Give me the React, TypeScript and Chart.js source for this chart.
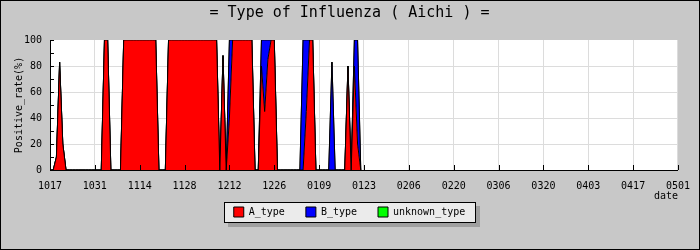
import React, { useEffect, useRef } from 'react';
import { Chart, registerables } from 'chart.js';

Chart.register(...registerables);

const chartTitle = '= Type of Influenza ( Aichi ) =';
const yTitle = 'Positive_rate(%)';
const xTitle = 'date';

// x tick labels, one every 14 days (day 0 = 10/17, day 196 = 05/01)
const tickLabels = ['1017', '1031', '1114', '1128', '1212', '1226', '0109', '0123', '0206', '0220', '0306', '0320', '0403', '0417', '0501'];
const daysPerTick = 14;
const lastDay = 196;

const seriesNames = ['A_type', 'B_type', 'unknown_type'];
const seriesColors = ['#ff0000', '#0000ff', '#00ff00'];

// daily positive rate (%), day 0 .. 97
const aType = [
  0, 0, 10, 83, 20, 0, 0, 0, 0, 0,
  0, 0, 0, 0, 0, 0, 0, 100, 100, 0,
  0, 0, 0, 100, 100, 100, 100, 100, 100, 100,
  100, 100, 100, 100, 0, 0, 0, 100, 100, 100,
  100, 100, 100, 100, 100, 100, 100, 100, 100, 100,
  100, 100, 100, 0, 88, 0, 40, 100, 100, 100,
  100, 100, 100, 100, 0, 0, 80, 45, 85, 100,
  100, 0, 0, 0, 0, 0, 0, 0, 0, 0,
  45, 100, 100, 0, 0, 0, 0, 0, 0, 0,
  0, 0, 0, 80, 0, 80, 20, 0,
];
const bType = [
  0, 0, 0, 0, 0, 0, 0, 0, 0, 0,
  0, 0, 0, 0, 0, 0, 0, 0, 0, 0,
  0, 0, 0, 0, 0, 0, 0, 0, 0, 0,
  0, 0, 0, 0, 0, 0, 0, 0, 0, 0,
  0, 0, 0, 0, 0, 0, 0, 0, 0, 0,
  0, 0, 0, 0, 0, 0, 60, 0, 0, 0,
  0, 0, 0, 0, 0, 0, 20, 55, 15, 0,
  0, 0, 0, 0, 0, 0, 0, 0, 0, 100,
  55, 0, 0, 0, 0, 0, 0, 0, 83, 0,
  0, 0, 0, 0, 0, 20, 80, 0,
];
const unknownType = [
  0, 0, 0, 0, 0, 0, 0, 0, 0, 0,
  0, 0, 0, 0, 0, 0, 0, 0, 0, 0,
  0, 0, 0, 0, 0, 0, 0, 0, 0, 0,
  0, 0, 0, 0, 0, 0, 0, 0, 0, 0,
  0, 0, 0, 0, 0, 0, 0, 0, 0, 0,
  0, 0, 0, 0, 0, 0, 0, 0, 0, 0,
  0, 0, 0, 0, 0, 0, 0, 0, 0, 0,
  0, 0, 0, 0, 0, 0, 0, 0, 0, 0,
  0, 0, 0, 0, 0, 0, 0, 0, 0, 0,
  0, 0, 0, 0, 0, 0, 0, 0,
];

const seriesValues = [aType, bType, unknownType];

const decorPlugin = {
  id: 'decor',
  beforeDraw(chart: any) {
    const { ctx, chartArea: a } = chart;
    ctx.save();
    ctx.fillStyle = '#c8c8c8';
    ctx.fillRect(0, 0, chart.width, chart.height);
    ctx.fillStyle = '#ffffff';
    ctx.fillRect(a.left, a.top, a.right - a.left, a.bottom - a.top);
    const hb = chart.legend && chart.legend.legendHitBoxes;
    if (hb && hb.length) {
      const last = hb[hb.length - 1];
      const l = Math.round(hb[0].left - 10);
      const r = Math.round(last.left + last.width + 11);
      const t = Math.round(hb[0].top - 5);
      const b = Math.round(hb[0].top + hb[0].height + 6);
      ctx.fillStyle = '#a0a0a0';
      ctx.fillRect(l + 4, t + 4, r - l, b - t);
      ctx.fillStyle = '#ebebeb';
      ctx.fillRect(l, t, r - l, b - t);
      ctx.strokeStyle = '#000';
      ctx.lineWidth = 1;
      ctx.strokeRect(l + 0.5, t + 0.5, r - l - 1, b - t - 1);
    }
    ctx.restore();
  },
  afterDatasetsDraw(chart: any) {
    const { ctx, chartArea: a, scales } = chart;
    ctx.save();
    ctx.strokeStyle = '#000';
    ctx.lineWidth = 1;
    ctx.beginPath();
    for (let v = 0; v <= 100; v += 10) {
      const py = Math.round(scales.y.getPixelForValue(v)) + 0.5;
      ctx.moveTo(a.left, py);
      ctx.lineTo(a.left + 4, py);
    }
    scales.x.ticks.forEach((t: any) => {
      const px = Math.round(scales.x.getPixelForValue(t.value)) + 0.5;
      ctx.moveTo(px, a.bottom);
      ctx.lineTo(px, a.bottom - 5);
    });
    ctx.stroke();
    ctx.restore();
  },
  afterDraw(chart: any) {
    const { ctx } = chart;
    ctx.save();
    ctx.strokeStyle = '#000';
    ctx.lineWidth = 1;
    ctx.strokeRect(0.5, 0.5, chart.width - 1, chart.height - 1);
    ctx.restore();
  },
};

export default function App() {
  const canvasRef = useRef<HTMLCanvasElement | null>(null);

  useEffect(() => {
    if (!canvasRef.current) return;
    Chart.defaults.font.family = '"DejaVu Sans Mono", monospace';
    Chart.defaults.font.size = 10;
    Chart.defaults.color = '#000';

    const datasets = seriesNames.map((name, s) => ({
      label: name,
      data: seriesValues[s].map((v, i) => ({ x: i, y: v })),
      backgroundColor: seriesColors[s],
      borderColor: '#000',
      borderWidth: 1,
      pointRadius: 0,
      pointHoverRadius: 0,
      tension: 0,
      fill: s === 0 ? 'origin' : '-1',
    }));

    const chart = new Chart(canvasRef.current, {
      type: 'line',
      data: { datasets },
      plugins: [decorPlugin],
      options: {
        animation: false,
        responsive: false,
        events: [],
        layout: { padding: { left: 19, right: 20, top: 0, bottom: 23 } },
        plugins: {
          title: {
            display: true,
            text: chartTitle,
            color: '#000',
            font: { size: 15, weight: 'normal' },
            padding: { top: 4, bottom: 18 },
          },
          legend: {
            position: 'bottom',
            title: { display: true, text: '', font: { size: 10 }, padding: { top: -11, bottom: -11 } },
            labels: { boxWidth: 10, boxHeight: 10, padding: 21, color: '#000', font: { size: 10 } },
          },
          tooltip: { enabled: false },
        },
        scales: {
          x: {
            type: 'linear',
            min: 0,
            max: lastDay,
            afterFit: (s: any) => { s.height = 26; },
            ticks: {
              stepSize: daysPerTick,
              autoSkip: false,
              maxRotation: 0,
              padding: 10,
              color: '#000',
              callback: (v: any) => tickLabels[Math.round(Number(v) / daysPerTick)],
            },
            grid: { color: '#dcdcdc', drawTicks: false },
            border: { color: '#000' },
            title: { display: true, text: xTitle, align: 'end', color: '#000', padding: { top: 0, bottom: -6 } },
          },
          y: {
            stacked: true,
            min: 0,
            max: 100,
            afterFit: (s: any) => { s.width = 31; },
            ticks: { stepSize: 20, padding: 8, color: '#000' },
            grid: {
              color: (c: any) => (c.tick && c.tick.value === 100 ? 'rgba(0,0,0,0)' : '#dcdcdc'),
              drawTicks: false,
            },
            border: { color: '#000' },
            title: { display: true, text: yTitle, color: '#000', padding: { top: -6, bottom: 0 } },
          },
        },
      },
    } as any);
    return () => chart.destroy();
  }, []);

  return (
    <div style={{ position: 'fixed', left: 0, top: 0, width: 700, height: 250 }}>
      <canvas ref={canvasRef} width={700} height={250} style={{ display: 'block' }} />
    </div>
  );
}
